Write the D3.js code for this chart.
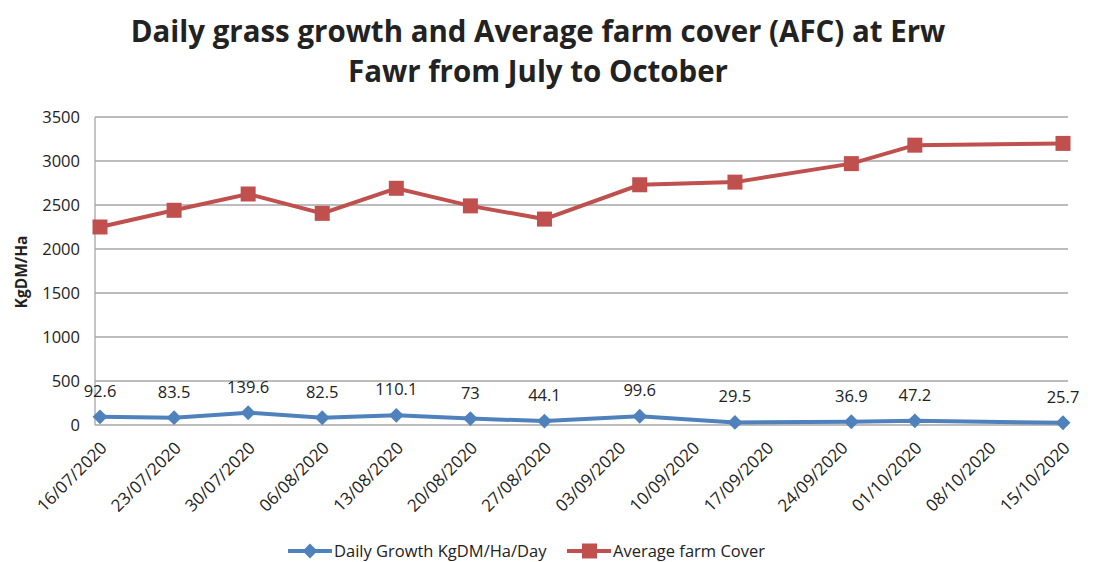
<!DOCTYPE html>
<html>
<head>
<meta charset="utf-8">
<script src="https://cdnjs.cloudflare.com/ajax/libs/d3/7.8.5/d3.min.js"></script>
<style>
	body { margin: 0; background: #fff; }
	text { font-family: "Open Sans", sans-serif; fill: #222; }
</style>
</head>
<body>
<div id="chart"></div>
<script>
	// data
	var pointDates = ['16/07/2020', '23/07/2020', '30/07/2020', '06/08/2020', '13/08/2020', '20/08/2020',
		'27/08/2020', '05/09/2020', '14/09/2020', '25/09/2020', '01/10/2020', '15/10/2020'];
	var dailyGrowth = [92.6, 83.5, 139.6, 82.5, 110.1, 73, 44.1, 99.6, 29.5, 36.9, 47.2, 25.7];
	var farmCover = [2250, 2440, 2625, 2405, 2690, 2490, 2340, 2730, 2760, 2970, 3180, 3200];
	var tickDates = ['16/07/2020', '23/07/2020', '30/07/2020', '06/08/2020', '13/08/2020', '20/08/2020',
		'27/08/2020', '03/09/2020', '10/09/2020', '17/09/2020', '24/09/2020', '01/10/2020', '08/10/2020', '15/10/2020'];
	var yTicks = [0, 500, 1000, 1500, 2000, 2500, 3000, 3500];
	var seriesNames = ['Daily Growth KgDM/Ha/Day', 'Average farm Cover'];

	var parse = d3.timeParse('%d/%m/%Y');
	var W = 1094, H = 562;
	var plot = { left: 95, right: 1068, top: 117, bottom: 425 };

	var svg = d3.select('#chart').append('svg')
		.attr('width', W)
		.attr('height', H)

	var x = d3.scaleTime()
		.domain([parse(tickDates[0]), parse(tickDates[tickDates.length - 1])])
		.range([100, 1063])
	var y = d3.scaleLinear()
		.domain([0, 3500])
		.range([plot.bottom, plot.top])

	// title, sized to the reference width
	var title = svg.append('g').attr('font-weight', 'bold')
	var t1 = title.append('text')
		.attr('x', 538).attr('y', 42)
		.attr('text-anchor', 'middle')
		.attr('font-size', 30)
		.text('Daily grass growth and Average farm cover (AFC) at Erw')
	var fs = 30 * 815 / t1.node().getComputedTextLength()
	t1.attr('font-size', fs)
	title.append('text')
		.attr('x', 538).attr('y', 82)
		.attr('text-anchor', 'middle')
		.attr('font-size', fs)
		.text('Fawr from July to October')

	// grid
	svg.append('g')
		.selectAll('line')
		.data(yTicks.slice(1))
		.enter().append('line')
		.attr('x1', plot.left).attr('x2', plot.right)
		.attr('y1', d => y(d)).attr('y2', d => y(d))
		.attr('stroke', '#a6a6a6')
		.attr('stroke-width', 1.3)

	svg.append('line')
		.attr('x1', plot.left).attr('x2', plot.left)
		.attr('y1', plot.top).attr('y2', plot.bottom)
		.attr('stroke', '#a6a6a6').attr('stroke-width', 1.3)
	svg.append('line')
		.attr('x1', plot.left).attr('x2', plot.right)
		.attr('y1', plot.bottom).attr('y2', plot.bottom)
		.attr('stroke', '#a6a6a6').attr('stroke-width', 1.3)

	// y tick labels
	svg.append('g')
		.selectAll('text')
		.data(yTicks)
		.enter().append('text')
		.attr('x', 80)
		.attr('y', d => y(d) + 6)
		.attr('text-anchor', 'end')
		.attr('font-size', 16.5)
		.text(d => d)

	svg.append('text')
		.attr('transform', 'translate(27,272) rotate(-90)')
		.attr('text-anchor', 'middle')
		.attr('font-size', 15.5)
		.attr('font-weight', 'bold')
		.text('KgDM/Ha')

	// x tick labels
	svg.append('g')
		.selectAll('text')
		.data(tickDates)
		.enter().append('text')
		.attr('transform', d => 'translate(' + (x(parse(d)) + 8) + ',' + 449 + ') rotate(-45)')
		.attr('text-anchor', 'end')
		.attr('font-size', 17)
		.text(d => d)

	var line = d3.line()
		.x((d, i) => x(parse(pointDates[i])))
		.y(d => y(d))

	// average farm cover
	svg.append('path')
		.datum(farmCover)
		.attr('d', line)
		.attr('fill', 'none')
		.attr('stroke', '#c0504d')
		.attr('stroke-width', 4)
	svg.append('g')
		.selectAll('rect')
		.data(farmCover)
		.enter().append('rect')
		.attr('x', (d, i) => x(parse(pointDates[i])) - 7.5)
		.attr('y', d => y(d) - 7.5)
		.attr('width', 15).attr('height', 15)
		.attr('fill', '#c0504d')

	// daily growth
	var diamond = d3.symbol().type(d3.symbolSquare).size(110)
	svg.append('path')
		.datum(dailyGrowth)
		.attr('d', line)
		.attr('fill', 'none')
		.attr('stroke', '#4f81bd')
		.attr('stroke-width', 4)
	svg.append('g')
		.selectAll('path')
		.data(dailyGrowth)
		.enter().append('path')
		.attr('d', diamond)
		.attr('transform', (d, i) => 'translate(' + [x(parse(pointDates[i])), y(d)] + ') rotate(45)')
		.attr('fill', '#4f81bd')
	svg.append('g')
		.selectAll('text')
		.data(dailyGrowth)
		.enter().append('text')
		.attr('x', (d, i) => x(parse(pointDates[i])))
		.attr('y', d => y(d) - 20)
		.attr('text-anchor', 'middle')
		.attr('font-size', 16.5)
		.text(d => d)

	// legend
	var legend = svg.append('g')
	var lx = [288, 567]
	var colors = ['#4f81bd', '#c0504d']
	var items = legend.selectAll('g')
		.data(seriesNames)
		.enter().append('g')
		.attr('transform', (d, i) => 'translate(' + lx[i] + ',551)')
	items.append('line')
		.attr('x1', 0).attr('x2', 44)
		.attr('stroke', (d, i) => colors[i])
		.attr('stroke-width', 4)
	items.filter((d, i) => i == 0).append('path')
		.attr('d', diamond)
		.attr('transform', 'translate(22,0) rotate(45)')
		.attr('fill', colors[0])
	items.filter((d, i) => i == 1).append('rect')
		.attr('x', 15).attr('y', -7.5)
		.attr('width', 15).attr('height', 15)
		.attr('fill', colors[1])
	items.append('text')
		.attr('x', 46)
		.attr('y', 6)
		.attr('font-size', 16.5)
		.text(d => d)
</script>
</body>
</html>
